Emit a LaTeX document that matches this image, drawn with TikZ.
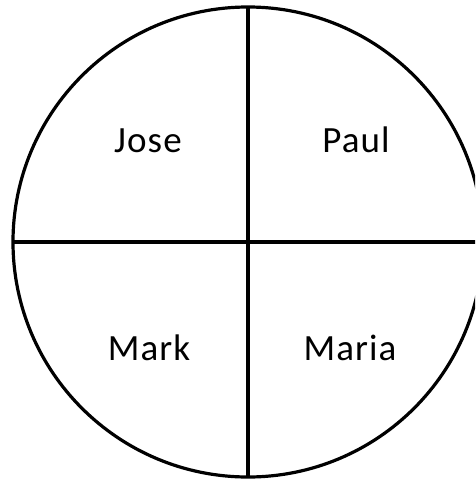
\documentclass[tikz,border=0pt]{standalone}
\usepackage{fontspec}
\setmainfont{Carlito}[LetterSpace=3]
\usepackage{tikz}

\begin{document}
\begin{tikzpicture}[x=1pt,y=-1pt,line width=3.2pt,font=\fontsize{37}{44}\selectfont]
\useasboundingbox (0,0) rectangle (475,479);
\clip (0,0) rectangle (475,479);
\coordinate (top) at (248,7);
\coordinate (bot) at (248,477);
\coordinate (lft) at (13,242);
\coordinate (rgt) at (483,242);
\draw (248,242) circle (235);
\draw (top)--(bot);
\draw (lft)--(rgt);
\node[anchor=base,inner sep=0pt] (jose) at (148,152) {Jose};
\node[anchor=base,inner sep=0pt] (paul) at (356,152) {Paul};
\node[anchor=base,inner sep=0pt] (mark) at (149,360) {Mark};
\node[anchor=base,inner sep=0pt] (maria) at (350,360) {Maria};
\end{tikzpicture}
\end{document}
